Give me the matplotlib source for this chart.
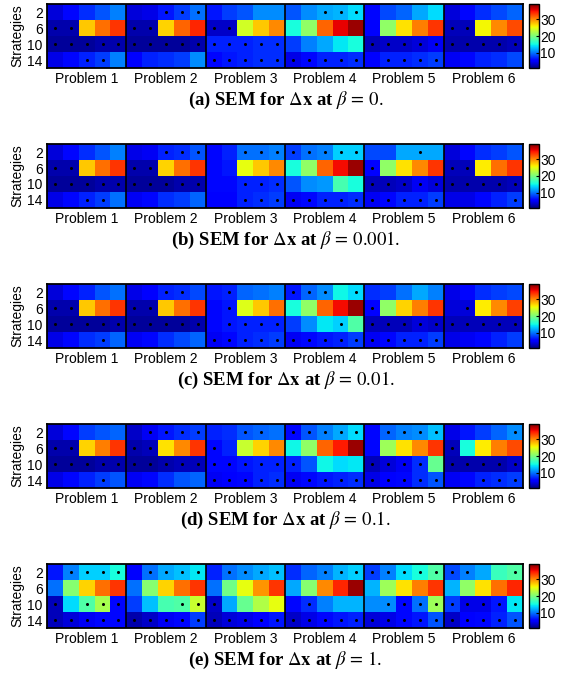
import numpy as np
import matplotlib
matplotlib.use("Agg")
import matplotlib.pyplot as plt

plt.rcParams['font.family'] = ['Liberation Sans', 'DejaVu Sans']
plt.rcParams['mathtext.fontset'] = 'stix'

# SEM values, 4 strategy rows (2, 6, 10, 14) x 30 columns (6 problems x 5)
sem_a = [
    [4, 6, 7.5, 9, 10.5,  4, 4.5, 6.5, 8, 10,  6.5, 8, 9, 11, 11,  9, 11, 12, 12.5, 14,  6, 8.5, 9.5, 12, 14,  4, 6, 7.5, 8.5, 9.5],
    [2.5, 2.5, 27.5, 31, 33.5,  2.5, 2.5, 27, 31.5, 34,  3.5, 3.5, 24, 27.5, 30,  15.5, 21, 31.5, 35.5, 38,  5.5, 21, 26.5, 30.5, 33.5,  3, 3, 25.5, 30, 32.5],
    [2, 2, 2, 2.5, 2.5,  2, 2, 2, 2, 2.5,  7, 7, 7, 7.5, 7.5,  8, 10.5, 12, 14.5, 15.5,  3, 3.5, 3.5, 4, 5,  2.5, 2.5, 2.5, 2.5, 3],
    [4.5, 6, 7, 8, 10.5,  5.5, 7, 7.5, 8, 11,  6, 6.5, 7, 7.5, 7.5,  4.5, 6, 7, 7, 7.5,  5.5, 7, 7, 7.5, 8,  5, 6, 7, 7.5, 8.5],
]
sem_b = [
    [4, 6, 7.5, 9, 10.5,  4.5, 5, 7, 7.5, 9,  6, 7, 10, 10, 10.5,  8, 10, 10.5, 13.5, 13.5,  8.5, 8.5, 12, 12, 12,  4, 6, 7.5, 8, 9],
    [2.5, 2.5, 27.5, 31, 33.5,  2.5, 2.5, 27, 31, 33.5,  6, 6.5, 25, 27.5, 30,  15.5, 21, 31.5, 35, 38,  5.5, 21, 26.5, 30, 33.5,  3, 3, 26, 31, 33.5],
    [2, 2, 2, 2.5, 2.5,  2, 2, 2, 2.5, 2.5,  6, 6, 7, 7, 7.5,  9, 11, 11.5, 17.5, 15.5,  3, 3, 3.5, 5, 4,  2.5, 2.5, 2.5, 2.5, 3],
    [4.5, 6, 7, 8, 10,  5, 6, 7.5, 8, 9.5,  5.5, 5.5, 7, 7.5, 8,  5, 6, 7, 7, 7.5,  5, 6, 7, 7, 8,  4.5, 4.5, 6, 7, 8],
]
sem_c = [
    [4, 6, 7, 9, 10,  4.5, 5.5, 7, 7.5, 8.5,  6.5, 7, 9.5, 10, 10.5,  6.5, 9.5, 11, 15, 14,  7.5, 8, 10, 12, 10.5,  4.5, 6, 7.5, 8, 8.5],
    [2.5, 2.5, 27.5, 31, 33.5,  2.5, 2.5, 27.5, 31, 33.5,  6, 6.5, 24.5, 27.5, 31,  15.5, 21, 31.5, 35, 38,  5.5, 21, 27, 30.5, 33.5,  4, 4, 26, 30, 33],
    [2, 2, 2, 2, 2.5,  2, 2, 2, 2, 2.5,  6, 6.5, 7, 7, 7,  8, 11, 14.5, 13.5, 18,  3, 3, 3, 4, 3.5,  3, 3, 3, 3, 3],
    [4.5, 6, 7.5, 8, 9.5,  5, 6, 7.5, 8.5, 9.5,  5, 6, 7, 7.5, 8,  5, 6, 6.5, 7, 8,  5, 6, 7, 7, 8,  4.5, 5, 6, 7, 8],
]
sem_d = [
    [4, 6, 8, 9, 9.5,  3.5, 5, 6.5, 7.5, 8,  7, 7.5, 9, 9.5, 10,  6, 9, 10.5, 12, 14,  6, 9.5, 10.5, 11, 13,  4.5, 6.5, 8, 9.5, 11],
    [2.5, 2.5, 27, 30.5, 33.5,  2.5, 3, 26.5, 30, 33.5,  6, 7, 23.5, 27, 30,  15, 21, 31.5, 34.5, 38,  6, 21.5, 26.5, 30, 33.5,  3, 15.5, 26, 30.5, 32.5],
    [2, 2, 2, 2.5, 2.5,  2, 2, 2.5, 3, 3,  6, 6, 6.5, 7, 7,  7, 9, 15, 14, 14.5,  3, 4, 5, 7.5, 19,  2.5, 2.5, 2.5, 2.5, 3.5],
    [4.5, 6, 7, 8, 9,  5, 6, 7.5, 9, 9.5,  5, 5.5, 6, 7, 7.5,  5, 6, 6.5, 7, 7.5,  4.5, 5.5, 6, 7.5, 9,  5, 6, 7, 7.5, 8],
]
sem_e = [
    [6.5, 10.5, 13.5, 13.5, 15.5,  5.5, 10, 12, 13, 14.5,  7, 10, 11, 12, 13,  7.5, 9.5, 10.5, 12.5, 13.5,  8, 10.5, 14, 15.5, 18,  8.5, 10.5, 12, 17, 18],
    [10, 20.5, 27, 31, 33.5,  10, 20.5, 27, 31, 33.5,  10, 19.5, 25, 29.5, 33.5,  12, 20.5, 30, 34, 38,  12.5, 21.5, 26.5, 30.5, 33.5,  12.5, 21, 26.5, 31, 34],
    [3, 14, 18, 22, 6,  8, 13, 17.5, 18, 23.5,  3.5, 12, 19, 22.5, 25,  6, 7.5, 10.5, 12.5, 12.5,  11, 11, 6, 10, 21.5,  8, 4.5, 4.5, 6.5, 14.5],
    [3, 4, 5, 6, 6,  2.5, 3.5, 5, 6, 8,  3, 4, 4.5, 5.5, 6.5,  3.5, 4.5, 6, 6.5, 7,  4, 4.5, 6, 6.5, 9,  3.5, 5.5, 6, 7, 9],
]

# significance marks (1 = dot), same layout
dots_a = ["00000 00111 00000 00111 00000 00000",
          "11000 11000 11000 00000 00000 11000",
          "11111 11111 11111 00000 11111 11111",
          "00110 00000 11111 11111 01111 00000"]
dots_b = ["00000 00111 00111 11111 00010 00000",
          "11000 11000 00000 00000 10000 11000",
          "11111 11111 00111 00000 11111 11111",
          "00110 00000 00111 11111 11111 00001"]
dots_c = ["00000 00110 01000 11101 00000 00000",
          "11000 11000 01000 00000 10000 01000",
          "11111 11111 01111 00010 11111 11111",
          "00010 00000 11111 11111 11111 00000"]
dots_d = ["00000 01111 00110 11111 01111 00001",
          "11000 11000 10000 00000 00000 10000",
          "11111 11111 11111 10000 11110 11111",
          "00010 00000 11111 11111 11111 00111"]
dots_e = ["01111 01111 01111 00111 11111 11001",
          "00000 00000 00000 00000 00000 00000",
          "10111 00011 10000 01000 01111 11111",
          "11111 11111 11111 11111 11111 11111"]

strategies = [2, 6, 10, 14]
problems = ["Problem 1", "Problem 2", "Problem 3", "Problem 4", "Problem 5", "Problem 6"]
captions = [r"(a) SEM for $\Delta\mathbf{x}$ at $\beta\,=\,0.$",
            r"(b) SEM for $\Delta\mathbf{x}$ at $\beta\,=\,0.001.$",
            r"(c) SEM for $\Delta\mathbf{x}$ at $\beta\,=\,0.01.$",
            r"(d) SEM for $\Delta\mathbf{x}$ at $\beta\,=\,0.1.$",
            r"(e) SEM for $\Delta\mathbf{x}$ at $\beta\,=\,1.$"]
panels = [(sem_a, dots_a), (sem_b, dots_b), (sem_c, dots_c), (sem_d, dots_d), (sem_e, dots_e)]

W, H = 571, 677
fig = plt.figure(figsize=(W / 100, H / 100), dpi=100)

for i, (sem, dots) in enumerate(panels):
    top = 4 + 140 * i
    ax = fig.add_axes([47 / W, 1 - (top + 64) / H, 476 / W, 64 / H])
    vals = np.array(sem, dtype=float)
    im = ax.imshow(vals, cmap='jet', vmin=1, vmax=39, aspect='auto',
                   interpolation='nearest', extent=(0, 30, 16, 0))
    for k in range(1, 6):
        ax.axvline(5 * k, color='black', lw=1.2)
    mask = np.array([[int(c) for c in r.replace(" ", "")] for r in dots])
    rr, cc = np.nonzero(mask)
    ax.plot(cc + 0.5, 4 * rr + 2, 'o', color='black', ms=2.2, mew=0)
    ax.set_xlim(0, 30)
    ax.set_ylim(16, 0)
    ax.set_yticks(strategies)
    ax.set_yticklabels([str(s) for s in strategies])
    ax.set_xticks([5 * k + 2.5 for k in range(6)])
    ax.set_xticklabels(problems)
    ax.tick_params(length=0, labelsize=10, pad=3)
    ax.set_ylabel("Strategies", fontsize=10, labelpad=2)
    for s in ax.spines.values():
        s.set_linewidth(1.3)

    cax = fig.add_axes([529 / W, 1 - (top + 64) / H, 10 / W, 64 / H])
    cb = fig.colorbar(im, cax=cax, ticks=[10, 20, 30])
    cb.outline.set_linewidth(1.0)
    cax.tick_params(direction='in', length=2, labelsize=10, pad=1)

    fig.text(0.5, 1 - (100 + 140 * i) / H, captions[i], ha='center', va='center',
             fontsize=13.5, fontweight='bold', family='Liberation Serif')

fig.savefig("out.png", dpi=100)
